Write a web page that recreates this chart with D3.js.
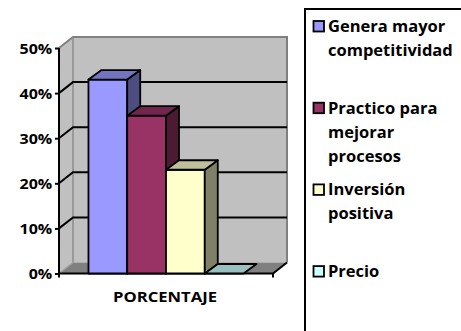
<!DOCTYPE html>
<html>
<head>
<meta charset="utf-8">
<script src="https://cdn.jsdelivr.net/npm/d3@7"></script>
<style>
  html, body { margin: 0; padding: 0; background: #ffffff; }
  svg { display: block; }
  text { font-family: "Open Sans", Lato, sans-serif; font-weight: bold; fill: #000; }
</style>
</head>
<body>
<svg id="chart" width="461" height="331"></svg>
<script>
// Survey results: share of answers per option
const category = "PORCENTAJE";
const seriesNames = ["Genera mayor competitividad", "Practico para mejorar procesos", "Inversión positiva", "Precio"];
const seriesValues = [0.43, 0.35, 0.23, 0.0];
const seriesColors = ["#9999ff", "#993366", "#ffffcc", "#ccffff"];
const legendLines = [["Genera mayor", "competitividad"], ["Practico para", "mejorar", "procesos"], ["Inversión", "positiva"], ["Precio"]];
const tickValues = [0, 0.1, 0.2, 0.3, 0.4, 0.5];

const svg = d3.select("#chart");
const FONT = "'Open Sans', Lato, sans-serif";

// plot frame (front plane) and depth offset of the 3-D box
const frontLeft = 59, frontRight = 273, baseY = 273.5, topY = 48;
const depthX = 14, depthY = -11;

const y = d3.scaleLinear().domain([0, 0.5]).range([baseY, topY]);
const xCat = d3.scaleBand().domain([category]).range([frontLeft, frontRight]).padding(0);
const xSer = d3.scaleBand().domain(seriesNames)
  .range([xCat(category), xCat(category) + xCat.bandwidth()])
  .paddingInner(0).paddingOuter(0.76);

const shade = (c, k) => { const r = d3.rgb(c); return d3.rgb(r.r * k, r.g * k, r.b * k).formatHex(); };
const poly = pts => pts.map(p => p.join(",")).join(" ");

// walls and floor
const g = svg.append("g");
const backL = frontLeft + depthX, backR = frontRight + depthX;
g.append("polygon") // back wall
  .attr("points", poly([[backL, y(0.5) + depthY], [backR, y(0.5) + depthY], [backR, y(0) + depthY], [backL, y(0) + depthY]]))
  .attr("fill", "#c0c0c0");
g.append("polygon") // side wall
  .attr("points", poly([[frontLeft, y(0.5)], [backL, y(0.5) + depthY], [backL, y(0) + depthY], [frontLeft, y(0)]]))
  .attr("fill", "#c0c0c0");
g.append("polygon") // floor
  .attr("points", poly([[frontLeft, y(0)], [frontRight, y(0)], [backR, y(0) + depthY], [backL, y(0) + depthY]]))
  .attr("fill", "#808080");

// wall edges
g.append("polyline")
  .attr("points", poly([[frontLeft, y(0.5)], [backL, y(0.5) + depthY], [backR, y(0.5) + depthY], [backR, y(0) + depthY]]))
  .attr("fill", "none").attr("stroke", "#808080").attr("stroke-width", 2);
g.append("line")
  .attr("x1", backL).attr("x2", backL).attr("y1", y(0.5) + depthY).attr("y2", y(0) + depthY)
  .attr("stroke", "#8c8c8c").attr("stroke-width", 1.5);
g.append("line")
  .attr("x1", frontLeft).attr("y1", y(0)).attr("x2", backL).attr("y2", y(0) + depthY)
  .attr("stroke", "#a0a0a0").attr("stroke-width", 1.5);

// gridlines on the side and back walls
const grid = g.append("g");
tickValues.filter(t => t > 0 && t < 0.5).forEach(t => {
  grid.append("polyline")
    .attr("points", poly([[frontLeft, y(t)], [backL, y(t) + depthY], [backR, y(t) + depthY]]))
    .attr("fill", "none").attr("stroke", "#000").attr("stroke-width", 2);
});

// value axis (labels are slightly widened, like the original typeface)
const yAxis = d3.axisLeft(y).tickValues(tickValues).tickFormat(d3.format(".0%")).tickSize(4).tickPadding(3);
const ya = svg.append("g").attr("transform", `translate(${frontLeft},0)`).call(yAxis);
ya.select(".domain").attr("stroke", "#000").attr("stroke-width", 2).attr("d", `M0,${y(0.5)}V${y(0)}`);
ya.selectAll(".tick line").attr("stroke", "#000").attr("stroke-width", 2);
ya.selectAll(".tick text").style("font-family", FONT).style("font-weight", "bold")
  .style("font-size", "15px").attr("fill", "#000")
  .attr("x", -6.3).attr("dy", "0.36em")
  .attr("transform", "scale(1.07,1)");

// category axis
const xAxis = d3.axisBottom(xCat).tickSize(0).tickPadding(0);
const xa = svg.append("g").attr("transform", `translate(0,${y(0)})`).call(xAxis);
xa.select(".domain").attr("stroke", "#000").attr("stroke-width", 2)
  .attr("d", `M${frontLeft},4V0H${frontRight}V4M${frontRight},0L${backR},${depthY}`);
xa.selectAll(".tick text").style("font-family", FONT).style("font-weight", "bold")
  .style("font-size", "15px").attr("fill", "#000")
  .attr("y", 0).attr("dy", 0)
  .attr("transform", "translate(-1,28.5) scale(1.11,1)");

// 3-D columns, drawn left to right so each one hides its neighbour's side face
const barDX = 13, barDY = -9.5;
const bars = svg.append("g").selectAll("g").data(seriesNames).join("g");
bars.each(function (name, i) {
  const b = d3.select(this);
  const x0 = xSer(name), x1 = x0 + xSer.bandwidth();
  const yt = y(seriesValues[i]), yb = y(0);
  const col = seriesColors[i];
  const st = { stroke: "#000", "stroke-width": 1.8, "stroke-linejoin": "round" };
  const face = (pts, fill) => {
    const p = b.append("polygon").attr("points", poly(pts)).attr("fill", fill);
    Object.entries(st).forEach(([k, v]) => p.attr(k, v));
  };
  if (yb - yt > 0.5) {
    face([[x0, yt], [x1, yt], [x1, yb], [x0, yb]], col);
    face([[x1, yt], [x1 + barDX, yt + barDY], [x1 + barDX, yb + barDY], [x1, yb]], shade(col, 0.5));
  }
  face([[x0, yt], [x0 + barDX, yt + barDY], [x1 + barDX, yt + barDY], [x1, yt]], shade(col, 0.75));
});

// legend
const legend = svg.append("g");
legend.append("rect").attr("x", 305).attr("y", 9).attr("width", 200).attr("height", 400)
  .attr("fill", "#fff").attr("stroke", "#000").attr("stroke-width", 2);
const entryTop = 32, entryStep = 81.7, lineH = 24;
legendLines.forEach((lines, i) => {
  const by = entryTop + i * entryStep;
  legend.append("rect").attr("x", 313.5).attr("y", by - 11).attr("width", 10.5).attr("height", 10.5)
    .attr("fill", seriesColors[i]).attr("stroke", "#000").attr("stroke-width", 1.8);
  lines.forEach((ln, j) => {
    legend.append("text")
      .attr("transform", `translate(328,${by + j * lineH})`)
      .style("font-size", "16.5px").text(ln);
  });
});
</script>
</body>
</html>
